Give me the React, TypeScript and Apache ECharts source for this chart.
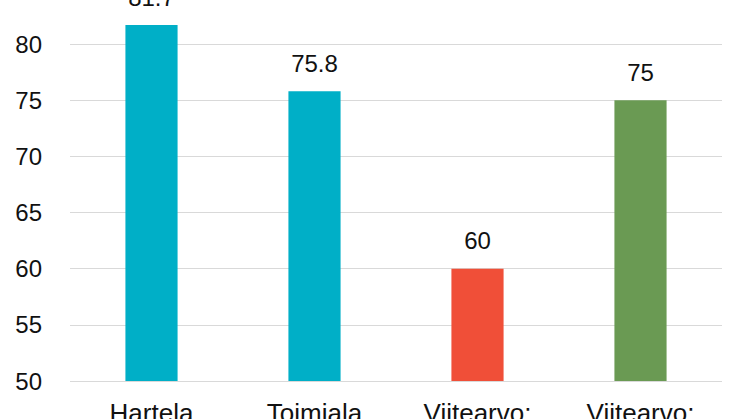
import React, { useEffect, useRef } from 'react';
import * as echarts from 'echarts';

const CATEGORIES = ['Hartela', 'Toimiala', 'Viitearvo:', 'Viitearvo:'];
const VALUES = [81.7, 75.8, 60, 75];
const BAR_COLORS = ['#00AFC7', '#00AFC7', '#F04F38', '#6A9A53'];

const FONT = 'Liberation Sans, Arial, sans-serif';

const App = (): JSX.Element => {
  const divEL = useRef<HTMLDivElement>(null);

  useEffect(() => {
    const instance = echarts.init(divEL.current as any, null, { renderer: 'svg' });

    const option: echarts.EChartsOption = {
      animation: false,
      grid: {
        left: 70,
        right: 24,
        top: -12,
        bottom: 38,
        containLabel: false,
        outerBoundsMode: 'none',
      } as any,
      xAxis: {
        type: 'category',
        data: CATEGORIES,
        axisLine: { show: false },
        axisTick: { show: false },
        axisLabel: {
          color: '#111',
          fontSize: 26,
          fontFamily: FONT,
          margin: 19,
          interval: 0,
        },
      },
      yAxis: {
        type: 'value',
        min: 50,
        max: 85,
        interval: 5,
        axisLine: { show: false },
        axisTick: { show: false },
        axisLabel: {
          color: '#111',
          fontSize: 24,
          fontFamily: FONT,
          margin: 28,
        },
        splitLine: {
          lineStyle: { color: '#D9D9D9', width: 1 },
        },
      },
      series: [
        {
          type: 'bar',
          barWidth: '32%',
          data: VALUES.map((v, i) => ({
            value: v,
            itemStyle: { color: BAR_COLORS[i] },
          })),
          label: {
            show: true,
            position: 'top',
            distance: 16,
            color: '#111',
            fontSize: 24,
            fontFamily: FONT,
          },
        },
      ],
    };

    instance.setOption(option);

    return () => {
      instance.dispose();
    };
  }, []);

  return (
    <div
      ref={divEL}
      style={{ position: 'absolute', left: 0, top: 0, width: 746, height: 419 }}
    ></div>
  );
};

export default App;
